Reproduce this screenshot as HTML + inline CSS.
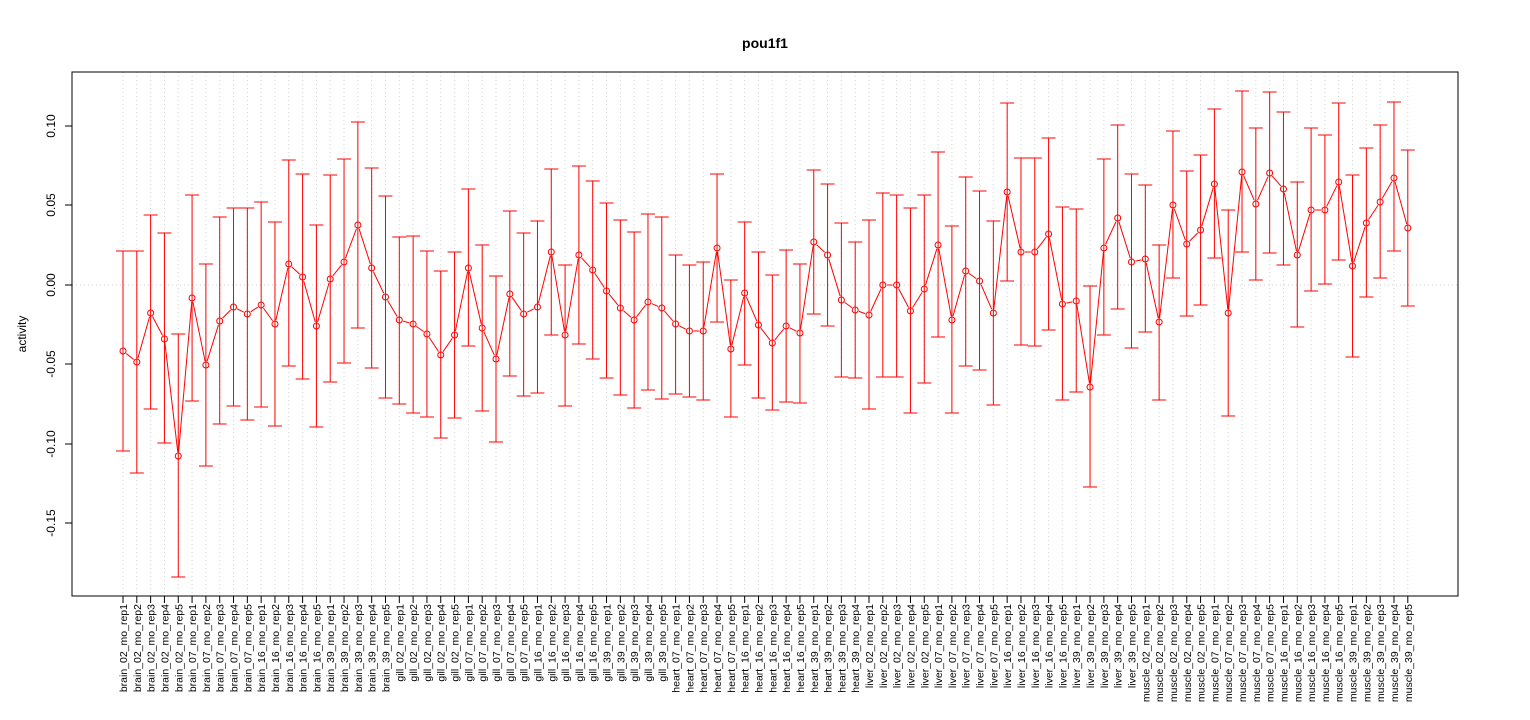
<!DOCTYPE html>
<html><head><meta charset="utf-8"><style>body{margin:0;background:#fff}svg{display:block}</style></head>
<body>
<svg id="s" width="1530" height="720" xmlns="http://www.w3.org/2000/svg" font-family="Liberation Sans, Arial, sans-serif">
<rect width="1530" height="720" fill="#fff"/>
<g id="grid"></g>
<line x1="72" x2="1458" y1="285" y2="285" stroke="#d3d3d3" stroke-dasharray="1,3"/>
<g id="data"></g>
<rect x="72" y="72" width="1386" height="524" fill="none" stroke="#000"/>
<text x="765" y="48" font-size="14" font-weight="bold" text-anchor="middle">pou1f1</text>
<text transform="rotate(-90,26,334)" x="26" y="334" font-size="12" text-anchor="middle">activity</text>
<g stroke="#000">
<line x1="72" x2="72" y1="126" y2="523"/>
<line x1="65" x2="72" y1="126" y2="126"/><line x1="65" x2="72" y1="205" y2="205"/><line x1="65" x2="72" y1="285" y2="285"/><line x1="65" x2="72" y1="364" y2="364"/><line x1="65" x2="72" y1="444" y2="444"/><line x1="65" x2="72" y1="523" y2="523"/>
</g>
<g font-size="12" text-anchor="middle">
<text transform="rotate(-90,55,126)" x="55" y="126">0.10</text>
<text transform="rotate(-90,55,205)" x="55" y="205">0.05</text>
<text transform="rotate(-90,55,285)" x="55" y="285">0.00</text>
<text transform="rotate(-90,55,364)" x="55" y="364">-0.05</text>
<text transform="rotate(-90,55,444)" x="55" y="444">-0.10</text>
<text transform="rotate(-90,55,523)" x="55" y="523">-0.15</text>
</g>
<g id="labels" font-size="10.5" text-anchor="end"></g>
</svg>
<script>
var names="brain_02_mo_rep1 brain_02_mo_rep2 brain_02_mo_rep3 brain_02_mo_rep4 brain_02_mo_rep5 brain_07_mo_rep1 brain_07_mo_rep2 brain_07_mo_rep3 brain_07_mo_rep4 brain_07_mo_rep5 brain_16_mo_rep1 brain_16_mo_rep2 brain_16_mo_rep3 brain_16_mo_rep4 brain_16_mo_rep5 brain_39_mo_rep1 brain_39_mo_rep2 brain_39_mo_rep3 brain_39_mo_rep4 brain_39_mo_rep5 gill_02_mo_rep1 gill_02_mo_rep2 gill_02_mo_rep3 gill_02_mo_rep4 gill_02_mo_rep5 gill_07_mo_rep1 gill_07_mo_rep2 gill_07_mo_rep3 gill_07_mo_rep4 gill_07_mo_rep5 gill_16_mo_rep1 gill_16_mo_rep2 gill_16_mo_rep3 gill_16_mo_rep4 gill_16_mo_rep5 gill_39_mo_rep1 gill_39_mo_rep2 gill_39_mo_rep3 gill_39_mo_rep4 gill_39_mo_rep5 heart_07_mo_rep1 heart_07_mo_rep2 heart_07_mo_rep3 heart_07_mo_rep4 heart_07_mo_rep5 heart_16_mo_rep1 heart_16_mo_rep2 heart_16_mo_rep3 heart_16_mo_rep4 heart_16_mo_rep5 heart_39_mo_rep1 heart_39_mo_rep2 heart_39_mo_rep3 heart_39_mo_rep4 liver_02_mo_rep1 liver_02_mo_rep2 liver_02_mo_rep3 liver_02_mo_rep4 liver_02_mo_rep5 liver_07_mo_rep1 liver_07_mo_rep2 liver_07_mo_rep3 liver_07_mo_rep4 liver_07_mo_rep5 liver_16_mo_rep1 liver_16_mo_rep2 liver_16_mo_rep3 liver_16_mo_rep4 liver_16_mo_rep5 liver_39_mo_rep1 liver_39_mo_rep2 liver_39_mo_rep3 liver_39_mo_rep4 liver_39_mo_rep5 muscle_02_mo_rep1 muscle_02_mo_rep2 muscle_02_mo_rep3 muscle_02_mo_rep4 muscle_02_mo_rep5 muscle_07_mo_rep1 muscle_07_mo_rep2 muscle_07_mo_rep3 muscle_07_mo_rep4 muscle_07_mo_rep5 muscle_16_mo_rep1 muscle_16_mo_rep2 muscle_16_mo_rep3 muscle_16_mo_rep4 muscle_16_mo_rep5 muscle_39_mo_rep1 muscle_39_mo_rep2 muscle_39_mo_rep3 muscle_39_mo_rep4 muscle_39_mo_rep5".split(" ");
var d=[[351,251,451],[362,251,473],[313,215,409],[339,233,443],[456,334,577],[298,195,401],[365,264,466],[321,217,424],[307,208,406],[314,208,420],[305,202,407],[324,222,426],[264,160,366],[277,174,379],[326,225,427],[279,175,382],[262,159,363],[225,122,328],[268,168,368],[297,196,398],
[320,237,404],[324,236,413],[334,251,417],[355,271,438],[335,252,418],[268,189,346],[328,245,411],[359,276,442],[294,211,376],[314,233,396],[307,221,393],[252,169,335],[335,265,406],[255,166,344],[270,181,359],[291,203,378],[308,220,395],[320,232,408],[302,214,390],[308,217,399],
[324,255,394],[331,265,397],[331,262,400],[248,174,322],[349,280,417],[293,222,365],[325,252,398],[343,275,410],[326,250,402],[333,264,403],[242,170,314],[255,184,326],[300,223,377],[310,242,378],
[315,220,409],[285,193,377],[285,195,377],[311,208,413],[289,195,383],[245,152,337],[320,226,413],[271,177,366],[281,191,370],[313,221,405],[192,103,281],[252,158,345],[252,158,346],[234,138,330],[304,207,400],[301,209,392],[387,286,487],[248,159,335],[218,125,309],[262,174,348],
[259,185,332],[322,245,400],[205,131,278],[244,171,316],[230,155,305],[184,109,258],[313,210,416],[172,91,252],[204,128,280],[173,92,253],[189,112,265],[255,182,327],[210,128,291],[210,135,284],[182,103,260],[266,175,357],[223,148,297],[202,125,278],[178,102,251],[228,150,306]];
var ns="http://www.w3.org/2000/svg";
function el(p,t,a,txt){var e=document.createElementNS(ns,t);for(var k in a)e.setAttribute(k,a[k]);if(txt)e.textContent=txt;document.getElementById(p).appendChild(e);}
var X=function(i){return 123+i*13.815;};
for(var i=0;i<d.length;i++){var x=X(i);
el("grid","line",{x1:x,x2:x,y1:72,y2:596,stroke:"#d3d3d3","stroke-dasharray":"1,3"});
el("data","line",{x1:x,x2:x,y1:d[i][1],y2:d[i][2],stroke:"#ff0000"});
el("data","line",{x1:x-7,x2:x+7,y1:d[i][1],y2:d[i][1],stroke:"#ff0000"});
el("data","line",{x1:x-7,x2:x+7,y1:d[i][2],y2:d[i][2],stroke:"#ff0000"});
el("data","circle",{cx:x,cy:d[i][0],r:3,fill:"none",stroke:"#ff0000"});
if(i<d.length-1){var x2=X(i+1),dx=x2-x,dy=d[i+1][0]-d[i][0],L=Math.sqrt(dx*dx+dy*dy);if(L>9){var ux=dx/L,uy=dy/L;el("data","line",{x1:x+ux*4,y1:d[i][0]+uy*4,x2:x2-ux*4,y2:d[i+1][0]-uy*4,stroke:"#ff0000"});}}
el("labels","text",{x:x+4,y:604,transform:"rotate(-90,"+(x+4)+",604)"},names[i]);
el("data","line",{x1:x,x2:x,y1:596,y2:603,stroke:"#000"});
}
</script>
</body></html>
